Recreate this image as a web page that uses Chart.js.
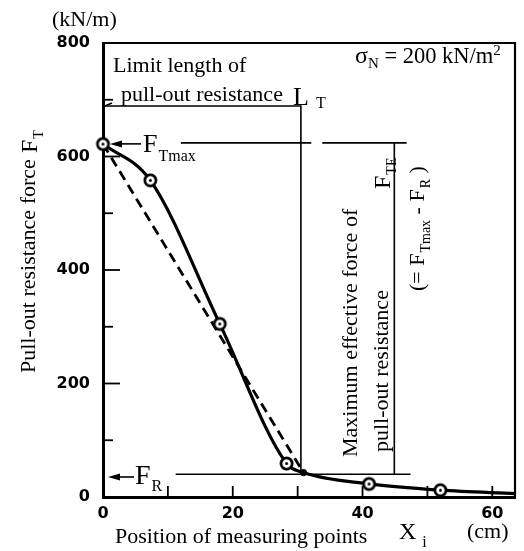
<!DOCTYPE html>
<html><head><meta charset="utf-8">
<script src="https://cdn.jsdelivr.net/npm/chart.js@4.4.1/dist/chart.umd.min.js"></script>
<style>html,body{margin:0;padding:0;background:#fff;}#wrap{width:524px;height:551px;position:relative;}</style>
</head><body><div id="wrap"><canvas id="c" width="524" height="551"></canvas></div>
<script>
// ---- data ----
const curveX = [0, 7.3, 18, 28.3, 30.9, 41, 52, 63.5];
const curveY = [622, 558, 305, 59, 43, 23, 12, 6];
const pointX = [0, 7.3, 18, 28.3, 41, 52];
const pointY = [622, 558, 305, 59, 23, 12];
const dashX = [0, 30.9];
const dashY = [622, 43];
const dotX = [30.9];
const dotY = [43];
const xTicks = [0, 20, 40, 60];
const yTicks = [0, 200, 400, 600, 800];
const xMinorTicks = [10, 20, 30, 40, 50, 60];
const yMajorTicks = [200, 400, 600];
const yMinorTicks = [100, 300, 500, 700];
// annotation values (data units)
const LT = 30.5, LTlevel = 689;
const FTmax = 624, FTmaxFrom = 12, FTmaxGap = [32.1, 33.8], FTmaxTo = 46.8;
const FR = 40, FRfrom = 11.2, FRto = 47.4;
const FTE = 44.9;

const SERIF = '"Liberation Serif", "Times New Roman", serif';

function makeMarker() {
  const c = document.createElement('canvas');
  c.width = 17; c.height = 17;
  const g = c.getContext('2d');
  g.beginPath(); g.arc(8.5, 8.5, 5.6, 0, Math.PI * 2);
  g.fillStyle = '#fff'; g.fill();
  g.lineWidth = 2.7; g.strokeStyle = '#000'; g.stroke();
  g.beginPath(); g.arc(8.5, 8.5, 1.5, 0, Math.PI * 2);
  g.fillStyle = '#000'; g.fill();
  return c;
}
const marker = makeMarker();
const zip = (xs, ys) => xs.map((x, i) => ({x: x, y: ys[i]}));

function rich(ctx, parts, x, y, rot) {
  ctx.save();
  ctx.translate(x, y);
  if (rot) ctx.rotate(rot);
  ctx.textAlign = 'left'; ctx.textBaseline = 'alphabetic'; ctx.fillStyle = '#000';
  let u = 0;
  for (const p of parts) {
    ctx.font = p.f;
    ctx.fillText(p.t, u + (p.dx || 0), p.dy || 0);
    u += ctx.measureText(p.t).width + (p.dx || 0);
  }
  ctx.restore();
}
function arrowLeft(ctx, x1, x2, y) {
  ctx.beginPath(); ctx.moveTo(x1 + 10, y); ctx.lineTo(x2, y); ctx.lineWidth = 1.6; ctx.stroke();
  ctx.beginPath(); ctx.moveTo(x1, y); ctx.lineTo(x1 + 12, y - 3.5); ctx.lineTo(x1 + 12, y + 3.5); ctx.closePath(); ctx.fill();
}

const deco = {
  id: 'deco',
  beforeDatasetsDraw(chart) {
    const {ctx, chartArea: a, scales: {x, y}} = chart;
    ctx.save();
    ctx.strokeStyle = '#000'; ctx.fillStyle = '#000';
    // top & right frame
    ctx.lineWidth = 2.2;
    ctx.beginPath(); ctx.moveTo(a.left, a.top); ctx.lineTo(a.right, a.top); ctx.lineTo(a.right, a.bottom); ctx.stroke();
    // inward ticks
    ctx.lineWidth = 1.8;
    for (const v of yMajorTicks) { const p = y.getPixelForValue(v); ctx.beginPath(); ctx.moveTo(a.left, p); ctx.lineTo(a.left + 17, p); ctx.stroke(); }
    for (const v of yMinorTicks) { const p = y.getPixelForValue(v); ctx.beginPath(); ctx.moveTo(a.left, p); ctx.lineTo(a.left + 10, p); ctx.stroke(); }
    for (const v of xMinorTicks) { const p = x.getPixelForValue(v); ctx.beginPath(); ctx.moveTo(p, a.bottom); ctx.lineTo(p, a.bottom - 11); ctx.stroke(); }
    // annotation lines
    ctx.lineWidth = 1.6;
    const ltx = x.getPixelForValue(LT), lty = y.getPixelForValue(LTlevel);
    ctx.beginPath(); ctx.moveTo(a.left + 2, lty); ctx.lineTo(ltx, lty); ctx.lineTo(ltx, y.getPixelForValue(dotY[0])); ctx.stroke();
    ctx.beginPath(); ctx.moveTo(a.left + 2, lty); ctx.lineTo(a.left + 9, lty - 3); ctx.stroke();
    const fty = y.getPixelForValue(FTmax);
    ctx.beginPath();
    ctx.moveTo(x.getPixelForValue(FTmaxFrom), fty); ctx.lineTo(x.getPixelForValue(FTmaxGap[0]), fty);
    ctx.moveTo(x.getPixelForValue(FTmaxGap[1]), fty); ctx.lineTo(x.getPixelForValue(FTmaxTo), fty);
    ctx.stroke();
    const fte = x.getPixelForValue(FTE);
    ctx.beginPath(); ctx.moveTo(fte, fty); ctx.lineTo(fte, y.getPixelForValue(FR)); ctx.stroke();
    const fry = y.getPixelForValue(FR);
    ctx.beginPath(); ctx.moveTo(x.getPixelForValue(FRfrom), fry); ctx.lineTo(x.getPixelForValue(FRto), fry); ctx.stroke();
    // arrows
    arrowLeft(ctx, 110, 141, fty + 1);
    arrowLeft(ctx, 108, 134, 477);
    ctx.restore();
  },
  afterDraw(chart) {
    const {ctx} = chart;
    const f = (s) => s + 'px ' + SERIF;
    rich(ctx, [{t: '(kN/m)', f: f(22)}], 52, 26);
    rich(ctx, [{t: 'Limit length of', f: f(22)}], 113, 72);
    rich(ctx, [{t: 'pull-out resistance', f: f(22)}], 121, 101);
    rich(ctx, [{t: 'L', f: f(26)}, {t: 'T', f: f(16), dx: 7, dy: 3}], 293, 105);
    rich(ctx, [{t: 'σ', f: f(24)}, {t: 'N', f: f(15), dy: 5}, {t: ' = 200 kN/m', f: f(22.5)}, {t: '2', f: f(15), dy: -8}], 355, 63);
    rich(ctx, [{t: 'F', f: f(26)}, {t: 'Tmax', f: f(16), dy: 9, dx: 1}], 143, 152);
    rich(ctx, [{t: 'F', f: f(28)}, {t: 'R', f: f(16), dy: 7, dx: 1}], 135, 484);
    rich(ctx, [{t: 'Position of measuring points', f: f(22)}], 115, 543);
    rich(ctx, [{t: 'X', f: f(24)}, {t: 'i', f: f(16), dx: 6, dy: 8}], 399, 539);
    rich(ctx, [{t: '(cm)', f: f(22)}], 467, 538);
    const R = -Math.PI / 2;
    rich(ctx, [{t: 'Pull-out resistance force', f: f(22)}], 35, 373, R);
    rich(ctx, [{t: 'F', f: f(24)}, {t: 'T', f: f(14), dy: 6, dx: 1}], 37, 153, R);
    rich(ctx, [{t: 'Maximum effective force of', f: f(22)}], 357, 457, R);
    rich(ctx, [{t: 'pull-out resistance', f: f(22)}], 388, 452, R);
    rich(ctx, [{t: 'F', f: f(24)}, {t: 'TE', f: f(14), dy: 6, dx: 1}], 390, 189, R);
    rich(ctx, [{t: '(= F', f: f(22)}, {t: 'Tmax', f: f(14), dy: 6, dx: 1}, {t: ' - F', f: f(22)}, {t: 'R', f: f(14), dy: 6, dx: 1}, {t: ' )', f: f(22)}], 424, 291, R);
  }
};

const tickFont = {family: '"DejaVu Sans", sans-serif', weight: 'bold', size: 16};

new Chart(document.getElementById('c'), {
  type: 'scatter',
  data: {
    datasets: [
      {label: 'points', data: zip(pointX, pointY), pointStyle: marker, pointRadius: 8, showLine: false, clip: false, order: 0},
      {label: 'dot', data: zip(dotX, dotY), pointStyle: 'circle', pointRadius: 3.2, backgroundColor: '#000', borderColor: '#000', showLine: false, clip: false, order: 1},
      {label: 'curve', data: zip(curveX, curveY), showLine: true, cubicInterpolationMode: 'monotone', borderColor: '#000', borderWidth: 3.2, pointRadius: 0, clip: false, order: 2},
      {label: 'dashed', data: zip(dashX, dashY), showLine: true, borderColor: '#000', borderWidth: 2.8, borderDash: [10, 6], pointRadius: 0, clip: false, order: 3}
    ]
  },
  options: {
    responsive: false, animation: false, devicePixelRatio: 1,
    layout: {padding: {top: 43, right: 5, left: 0, bottom: 0}},
    plugins: {legend: {display: false}, tooltip: {enabled: false}},
    events: [],
    scales: {
      x: {
        type: 'linear', min: 0, max: 63.5,
        afterFit(s) { s.height = 54; },
        afterBuildTicks(s) { s.ticks = xTicks.map(v => ({value: v})); },
        grid: {display: true, drawOnChartArea: false, drawTicks: false},
        border: {display: true, width: 3, color: '#000'},
        ticks: {color: '#000', font: tickFont, padding: 7, maxRotation: 0, autoSkip: false}
      },
      y: {
        type: 'linear', min: 0, max: 800,
        afterFit(s) { s.width = 103; },
        afterBuildTicks(s) { s.ticks = yTicks.map(v => ({value: v})); },
        grid: {display: true, drawOnChartArea: false, drawTicks: false},
        border: {display: true, width: 3, color: '#000'},
        ticks: {color: '#000', font: tickFont, padding: 13, autoSkip: false}
      }
    }
  },
  plugins: [deco]
});
</script></body></html>
